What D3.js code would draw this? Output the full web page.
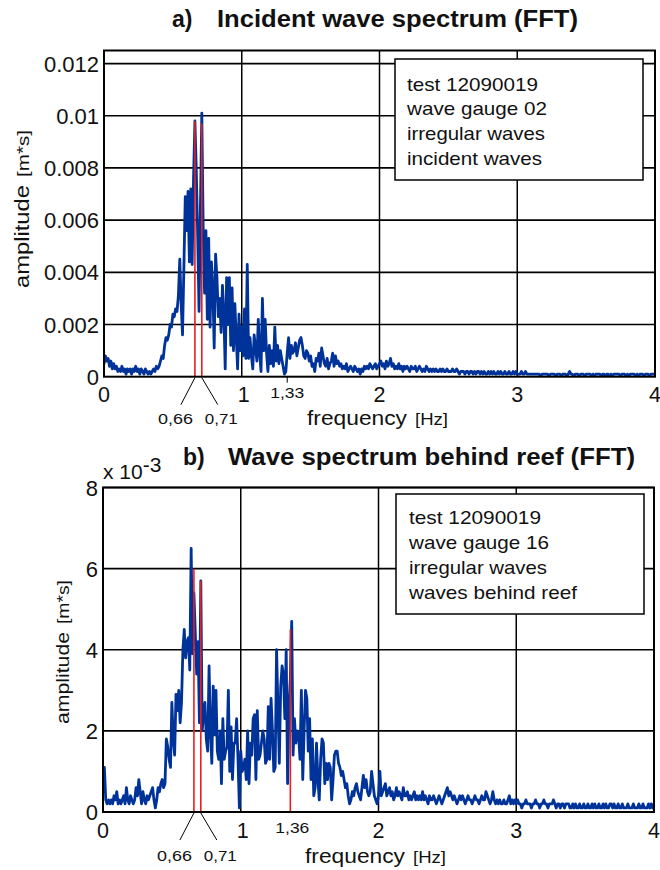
<!DOCTYPE html>
<html>
<head>
<meta charset="utf-8">
<script src="https://cdn.jsdelivr.net/npm/d3@7"></script>
<style>
  html, body { margin: 0; padding: 0; background: #fff; }
  text { font-family: "Liberation Sans", Arial, sans-serif; fill: #111; }
</style>
</head>
<body>
<svg id="chart" width="660" height="870"></svg>
<script>
// ---------------- DATA ----------------
// FFT bin spacing (Hz); bin i sits at frequency i * freqStep, 0 .. 4 Hz
const freqStep = 0.01;

// Panel a) incident wave spectrum, amplitude in units of 1e-4 m*s
const ampIncident = [
  5,8,6,7,4,6,3,5,3,4,
  2,3,2,4,2,3,1,3,2,3,
  1,3,2,4,2,3,1,3,2,1,
  3,2,1,2,1,2,3,2,4,3,
  4,6,8,7,12,15,14,16,20,19,
  24,23,26,25,31,45,28,16,42,69,
  56,71,44,72,43,76,98,79,54,25,
  65,101,57,32,56,22,53,19,44,34,
  11,47,38,23,30,17,35,24,3,38,
  20,38,12,34,10,28,15,3,24,10,
  19,8,26,7,43,7,15,8,3,16,
  11,6,22,9,2,30,10,22,9,2,
  12,5,10,4,19,6,12,5,10,7,
  4,1,2,9,15,7,12,9,10,13,
  8,11,14,15,12,8,7,10,9,6,
  8,4,5,2,7,6,9,4,11,8,
  5,4,7,3,5,6,9,4,8,5,
  6,4,5,3,4,3,5,2,3,4,
  3,2,4,3,2,3,1,3,2,4,
  3,4,3,5,4,3,4,5,3,4,
  5,6,4,5,3,6,4,5,7,4,
  5,3,4,3,5,3,4,2,4,3,
  4,3,2,4,3,3,4,2,3,4,
  3,2,3,2,4,3,2,3,2,3,
  2,3,2,2,3,2,3,2,2,3,
  2,2,2,3,2,2,3,2,1,2,
  2,2,1,2,2,1,2,2,1,2,
  1,2,2,1,2,1,2,1,1,2,
  1,2,1,2,1,1,2,1,2,1,
  1,2,1,1,2,1,1,2,1,2,
  1,1,1,2,1,1,2,1,1,1,
  1,1,1,1,1,1,1,0,1,1,
  1,1,1,0,1,1,1,1,0,1,
  1,1,0,1,1,1,0,1,2,1,
  1,0,1,1,1,0,1,1,1,0,
  1,1,1,1,0,1,0,1,1,1,
  1,0,1,1,0,1,1,0,1,0,
  1,1,1,1,1,0,1,1,1,0,
  1,0,1,1,1,1,0,1,0,1,
  1,1,0,1,1,1,0,1,1,1,
  1
];

// Panel b) spectrum behind reef, amplitude in units of 1e-4 m*s
const ampBehindReef = [
  5,11,3,2,3,2,3,2,4,3,
  5,2,3,2,3,4,2,6,3,2,
  4,3,2,3,6,4,8,5,2,5,
  3,2,4,3,4,5,6,3,1,3,
  6,5,7,8,6,7,18,16,13,11,
  27,18,14,29,25,30,22,27,40,45,
  38,42,43,35,65,39,54,44,34,42,
  22,57,20,24,27,18,15,36,20,12,
  31,19,30,15,13,20,7,23,13,15,
  16,30,10,21,8,17,17,23,13,1,
  15,10,11,13,8,20,7,17,14,23,
  24,8,25,13,14,17,20,18,12,13,
  26,13,28,20,10,11,40,26,12,31,
  36,34,23,40,7,26,33,47,14,23,
  17,20,19,13,30,8,20,30,28,15,
  23,8,18,4,6,17,8,3,13,18,
  17,7,12,8,12,11,3,8,14,15,
  15,12,11,9,10,8,6,7,4,2,
  3,5,4,6,7,5,4,3,6,9,
  6,8,5,4,5,10,7,4,3,2,
  4,10,4,5,6,7,4,5,6,4,
  5,3,4,6,4,5,4,3,6,4,
  4,5,3,4,3,4,5,3,4,3,
  4,3,5,3,4,3,2,4,3,3,
  4,3,2,3,4,3,2,3,4,5,
  6,4,5,4,3,4,3,2,3,4,
  3,4,3,2,3,4,3,3,2,3,
  4,3,3,2,3,4,3,3,5,4,
  3,2,3,5,3,2,3,2,3,2,
  2,3,2,2,3,4,2,3,2,3,
  2,3,2,2,1,2,2,3,2,2,
  2,1,2,2,3,2,2,1,2,2,
  3,2,2,1,2,2,2,3,2,1,
  2,2,1,2,2,1,2,2,2,1,
  1,2,1,2,1,1,2,1,1,2,
  1,1,2,1,1,2,1,2,1,1,
  2,1,1,2,1,2,1,1,2,2,
  1,2,1,1,2,1,1,2,1,1,
  1,2,1,1,1,2,1,1,1,2,
  1,1,2,1,1,1,2,1,2,1,
  2
];

// Marked peak frequencies (Hz) and the height of the red marker (1e-4 m*s)
const peakFreqA = [0.66, 0.71];
const peakAmpA  = [98, 97];
const peakFreqB = [0.66, 0.71, 1.36];
const peakAmpB  = [60, 57, 45];

// Labels under the axis for the peaks
const peakLabelsA = ["0,66", "0,71"];
const peakLabelsB = ["0,66", "0,71"];
const extraTickA = [1.33];      const extraLabelA = ["1,33"];
const extraTickB = [1.36];      const extraLabelB = ["1,36"];

// Axis ticks
const xTicks = [0, 1, 2, 3, 4];
const yTicksA = [0, 0.002, 0.004, 0.006, 0.008, 0.01, 0.012];
const yTickLabelsA = ["0", "0.002", "0.004", "0.006", "0.008", "0.01", "0.012"];
const yTicksB = [0, 2, 4, 6, 8];          // in 1e-3 m*s
const yTickLabelsB = ["0", "2", "4", "6", "8"];

const legendA = ["test 12090019", "wave gauge 02", "irregular waves", "incident waves"];
const legendB = ["test 12090019", "wave gauge 16", "irregular waves", "waves behind reef"];

// ---------------- DRAWING ----------------
const svg = d3.select("#chart");
const BLUE = "#003399";
const RED = "#ee1c1c";

// stretch a text to a given rendered width (reference font is wider than Liberation Sans)
function fit(sel, w) {
  return sel.attr("textLength", w).attr("lengthAdjust", "spacingAndGlyphs");
}

function panel(cfg) {
  const g = svg.append("g");
  const x = d3.scaleLinear().domain([0, 4]).range([cfg.left, cfg.right]);
  const y = d3.scaleLinear().domain(cfg.yDomain).range([cfg.bottom, cfg.top]);

  const clipId = "clip" + cfg.id;
  svg.append("clipPath").attr("id", clipId)
    .append("rect").attr("x", cfg.left).attr("y", cfg.top)
    .attr("width", cfg.right - cfg.left).attr("height", cfg.bottom - cfg.top);

  // grid
  g.selectAll(".vg").data(xTicks.slice(1, -1)).enter().append("line")
    .attr("x1", d => x(d)).attr("x2", d => x(d))
    .attr("y1", cfg.top).attr("y2", cfg.bottom)
    .attr("stroke", "#000").attr("stroke-width", 1.5);
  g.selectAll(".hg").data(cfg.yTicks.slice(1)).enter().append("line")
    .attr("x1", cfg.left).attr("x2", cfg.right)
    .attr("y1", d => y(d)).attr("y2", d => y(d))
    .attr("stroke", "#000").attr("stroke-width", 1.7);

  // spectrum line
  const line = d3.line()
    .x((d, i) => x(i * freqStep))
    .y(d => y(d * cfg.ampUnit));
  g.append("path").datum(cfg.amp)
    .attr("clip-path", `url(#${clipId})`)
    .attr("d", line)
    .attr("fill", "none").attr("stroke", BLUE)
    .attr("stroke-width", 2.8).attr("stroke-linejoin", "round").attr("stroke-linecap", "round");

  // red peak markers
  g.selectAll(".pk").data(cfg.peakFreq).enter().append("line")
    .attr("x1", d => x(d)).attr("x2", d => x(d))
    .attr("y1", y(0)).attr("y2", (d, i) => y(cfg.peakAmp[i] * cfg.ampUnit))
    .attr("stroke", RED).attr("stroke-width", 1.6);

  // legend box
  const lb = cfg.legendBox;
  g.append("rect").attr("x", lb.x).attr("y", lb.y).attr("width", lb.w).attr("height", lb.h)
    .attr("fill", "#fff").attr("stroke", "#000").attr("stroke-width", 1.5);
  cfg.legend.forEach((t, i) => {
    fit(g.append("text")
      .attr("x", lb.x + lb.pad).attr("y", lb.y + lb.first + i * lb.step)
      .attr("font-size", 18.5).text(t), cfg.legendWidths[i]);
  });

  // frame
  g.append("rect").attr("x", cfg.left).attr("y", cfg.top)
    .attr("width", cfg.right - cfg.left).attr("height", cfg.bottom - cfg.top)
    .attr("fill", "none").attr("stroke", "#000").attr("stroke-width", 2);

  // y tick labels
  g.selectAll(".yt").data(cfg.yTicks).enter().append("text")
    .attr("x", cfg.left - 5).attr("y", d => y(d) + 8)
    .attr("text-anchor", "end").attr("font-size", 22)
    .text((d, i) => cfg.yTickLabels[i]);

  // x tick labels
  g.selectAll(".xt").data(xTicks).enter().append("text")
    .attr("x", d => x(d) + (d === 1 ? 2 : 0)).attr("y", cfg.bottom + 25.5)
    .attr("text-anchor", "middle").attr("font-size", 21.5)
    .text(d => d);

  // extra tick (1,33 / 1,36)
  cfg.extraTick.forEach((f, i) => {
    if (cfg.extraTickMark) {
      g.append("line").attr("x1", x(f)).attr("x2", x(f))
        .attr("y1", cfg.bottom).attr("y2", cfg.bottom + 6)
        .attr("stroke", "#000").attr("stroke-width", 1);
    }
    fit(g.append("text").attr("x", x(f) + cfg.extraDx - 17).attr("y", cfg.bottom + 21)
      .attr("font-size", 15).text(cfg.extraLabel[i]), 34);
  });

  // slanted leader lines for the two close peaks
  const f0 = cfg.peakFreq[0], f1 = cfg.peakFreq[1];
  g.append("line").attr("x1", x(f0)).attr("y1", cfg.bottom + 1)
    .attr("x2", x(f0) - 14).attr("y2", cfg.bottom + 28)
    .attr("stroke", "#000").attr("stroke-width", 1);
  g.append("line").attr("x1", x(f1)).attr("y1", cfg.bottom + 1)
    .attr("x2", x(f1) + 16).attr("y2", cfg.bottom + 28)
    .attr("stroke", "#000").attr("stroke-width", 1);
  fit(g.append("text").attr("x", x(f0) - 37).attr("y", cfg.bottom + cfg.peakLabelDy)
    .attr("font-size", 15.5).text(cfg.peakLabels[0]), 35);
  fit(g.append("text").attr("x", x(f1) + 3).attr("y", cfg.bottom + cfg.peakLabelDy)
    .attr("font-size", 15.5).text(cfg.peakLabels[1]), 33);

  // x axis title
  fit(g.append("text").attr("x", cfg.xTitleX).attr("y", cfg.bottom + cfg.xTitleDy)
    .attr("font-size", 20.5).text("frequency"), 100);
  fit(g.append("text").attr("x", cfg.xTitleX + 108).attr("y", cfg.bottom + cfg.xTitleDy)
    .attr("font-size", 17).text("[Hz]"), 33);

  // y axis title (rotated, reads bottom to top)
  fit(g.append("text")
    .attr("transform", `translate(${cfg.yTitleX},${cfg.yTitleStart}) rotate(-90)`)
    .attr("font-size", cfg.yTitleSize).text("amplitude"), cfg.yTitleW1);
  fit(g.append("text")
    .attr("transform", `translate(${cfg.yTitleX},${cfg.yTitleStart - cfg.yTitleW1 - 8}) rotate(-90)`)
    .attr("font-size", cfg.yTitleSize - 3).text("[m*s]"), cfg.yTitleW2);

  // title
  g.append("text").attr("x", cfg.titleX).attr("y", cfg.titleY)
    .attr("font-size", 23).attr("font-weight", "bold").text(cfg.titleTag);
  fit(g.append("text").attr("x", cfg.titleX + cfg.titleGap).attr("y", cfg.titleY)
    .attr("font-size", 23).attr("font-weight", "bold").text(cfg.title), cfg.titleW);

  return { x, y, g };
}

panel({
  id: "A", left: 104, right: 655, top: 50.5, bottom: 376.7,
  yDomain: [0, 0.0125], ampUnit: 1e-4,
  amp: ampIncident, peakFreq: peakFreqA, peakAmp: peakAmpA, peakLabels: peakLabelsA,
  extraTick: extraTickA, extraLabel: extraLabelA, extraTickMark: true, extraDx: 0,
  peakLabelDy: 47,
  yTicks: yTicksA, yTickLabels: yTickLabelsA,
  legend: legendA, legendWidths: [131, 140, 138, 135],
  legendBox: { x: 395, y: 59, w: 248, h: 121, pad: 12, first: 31.7, step: 24.7 },
  xTitleX: 307, xTitleDy: 48.5,
  yTitleX: 29, yTitleStart: 288, yTitleSize: 20, yTitleW1: 103, yTitleW2: 47,
  titleX: 172, titleY: 27, titleGap: 45, titleW: 361,
  titleTag: "a)", title: "Incident wave spectrum (FFT)"
});

panel({
  id: "B", left: 103, right: 654, top: 487.5, bottom: 812,
  yDomain: [0, 8], ampUnit: 0.1,
  amp: ampBehindReef, peakFreq: peakFreqB, peakAmp: peakAmpB, peakLabels: peakLabelsB,
  extraTick: extraTickB, extraLabel: extraLabelB, extraTickMark: false, extraDx: 2,
  peakLabelDy: 49,
  yTicks: yTicksB, yTickLabels: yTickLabelsB,
  legend: legendB, legendWidths: [132, 140, 138, 168],
  legendBox: { x: 396, y: 494, w: 248, h: 120, pad: 13, first: 29.5, step: 25 },
  xTitleX: 305, xTitleDy: 51,
  yTitleX: 69, yTitleStart: 724, yTitleSize: 19, yTitleW1: 92, yTitleW2: 44,
  titleX: 183, titleY: 465, titleGap: 45, titleW: 407,
  titleTag: "b)", title: "Wave spectrum behind reef (FFT)"
});

// exponent label for panel b
const ex = svg.append("text").attr("x", 103).attr("y", 479).attr("font-size", 21);
ex.append("tspan").text("x 10");
ex.append("tspan").attr("dy", -7).text("-3");
</script>
</body>
</html>
